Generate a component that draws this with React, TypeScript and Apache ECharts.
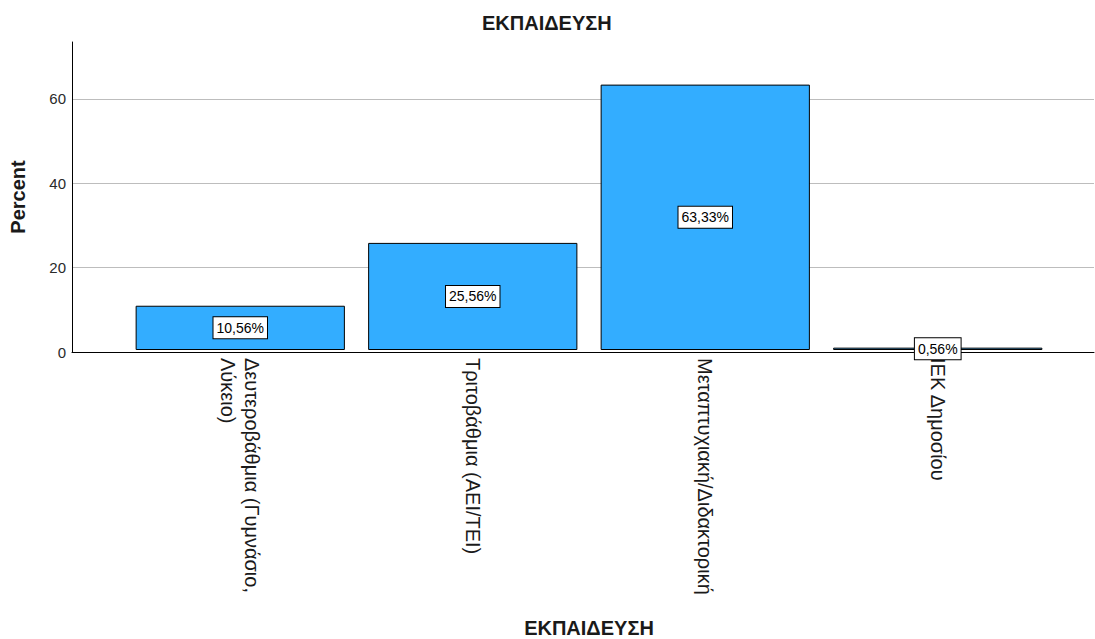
import React, { useEffect, useRef } from "react";
import * as echarts from "echarts";

const chartTitle = "ΕΚΠΑΙΔΕΥΣΗ";
const categories = [
  "Δευτεροβάθμια (Γυμνάσιο,\nΛύκειο)",
  "Τριτοβάθμια (ΑΕΙ/ΤΕΙ)",
  "Μεταπτυχιακή/Διδακτορική",
  "ΙΕΚ Δημοσίου",
];
const percents = [10.56, 25.56, 63.33, 0.56];
const yMax = 73.5;
const yInterval = 20;

const FONT = "'Liberation Sans', Arial, sans-serif";
const TEXT = "#1a1a1a";

export default function App() {
  const ref = useRef<HTMLDivElement>(null);

  useEffect(() => {
    if (!ref.current) return;
    const chart = echarts.init(ref.current, undefined, { renderer: "svg" });
    chart.setOption({
      animation: false,
      backgroundColor: "#ffffff",
      textStyle: { fontFamily: FONT },
      title: {
        text: chartTitle,
        left: 482,
        top: 13,
        padding: 0,
        textStyle: { fontFamily: FONT, fontSize: 20, fontWeight: "bold", color: TEXT },
      },
      grid: [
        // frame: y axis, gridlines and baseline across the full width
        { left: 72, right: 1, top: 42, bottom: 287 },
        // bars
        { left: 124, right: 41, top: 42, bottom: 287 },
      ],
      xAxis: [
        {
          gridIndex: 0,
          type: "value",
          min: 0,
          max: 1,
          axisLine: { show: true, lineStyle: { color: "#000", width: 1 } },
          axisTick: { show: false },
          axisLabel: { show: false },
          splitLine: { show: false },
        },
        {
          gridIndex: 1,
          type: "category",
          data: categories,
          axisLine: { show: false },
          axisTick: { show: false },
          axisLabel: {
            rotate: -90,
            margin: 8,
            interval: 0,
            fontFamily: FONT,
            fontSize: 20,
            lineHeight: 24,
            color: TEXT,
          },
          name: chartTitle,
          nameLocation: "middle",
          nameGap: 268,
          nameTextStyle: { fontFamily: FONT, fontSize: 20, fontWeight: "bold", color: TEXT },
        },
      ],
      yAxis: [
        {
          gridIndex: 0,
          type: "value",
          min: 0,
          max: yMax,
          interval: yInterval,
          axisLine: { show: true, lineStyle: { color: "#000", width: 1 } },
          axisTick: { show: false },
          axisLabel: { fontFamily: FONT, fontSize: 15, color: "#2a2a2a", margin: 6, showMaxLabel: false },
          splitLine: {
            show: true,
            showMaxLine: false,
            lineStyle: { color: "#bdbdbd", width: 1 },
          },
          name: "Percent",
          nameLocation: "middle",
          nameGap: 44,
          nameTextStyle: { fontFamily: FONT, fontSize: 20, fontWeight: "bold", color: TEXT },
        },
        {
          gridIndex: 1,
          type: "value",
          min: 0,
          max: yMax,
          show: false,
          splitLine: { show: false },
        },
      ],
      series: [
        {
          type: "bar",
          xAxisIndex: 1,
          yAxisIndex: 1,
          data: percents,
          barWidth: "90%",
          itemStyle: { color: "#33adff", borderColor: "#000", borderWidth: 1 },
          label: {
            show: true,
            position: "inside",
            formatter: (p: any) => p.value.toFixed(2).replace(".", ",") + "%",
            fontFamily: FONT,
            fontSize: 14,
            color: "#000",
            backgroundColor: "#fff",
            borderColor: "#000",
            borderWidth: 1,
            padding: [4, 3, 3, 3],
          },
        },
      ],
    });
    return () => chart.dispose();
  }, []);

  return (
    <div
      ref={ref}
      style={{ position: "fixed", left: 0, top: 0, width: 1095, height: 639 }}
    />
  );
}
